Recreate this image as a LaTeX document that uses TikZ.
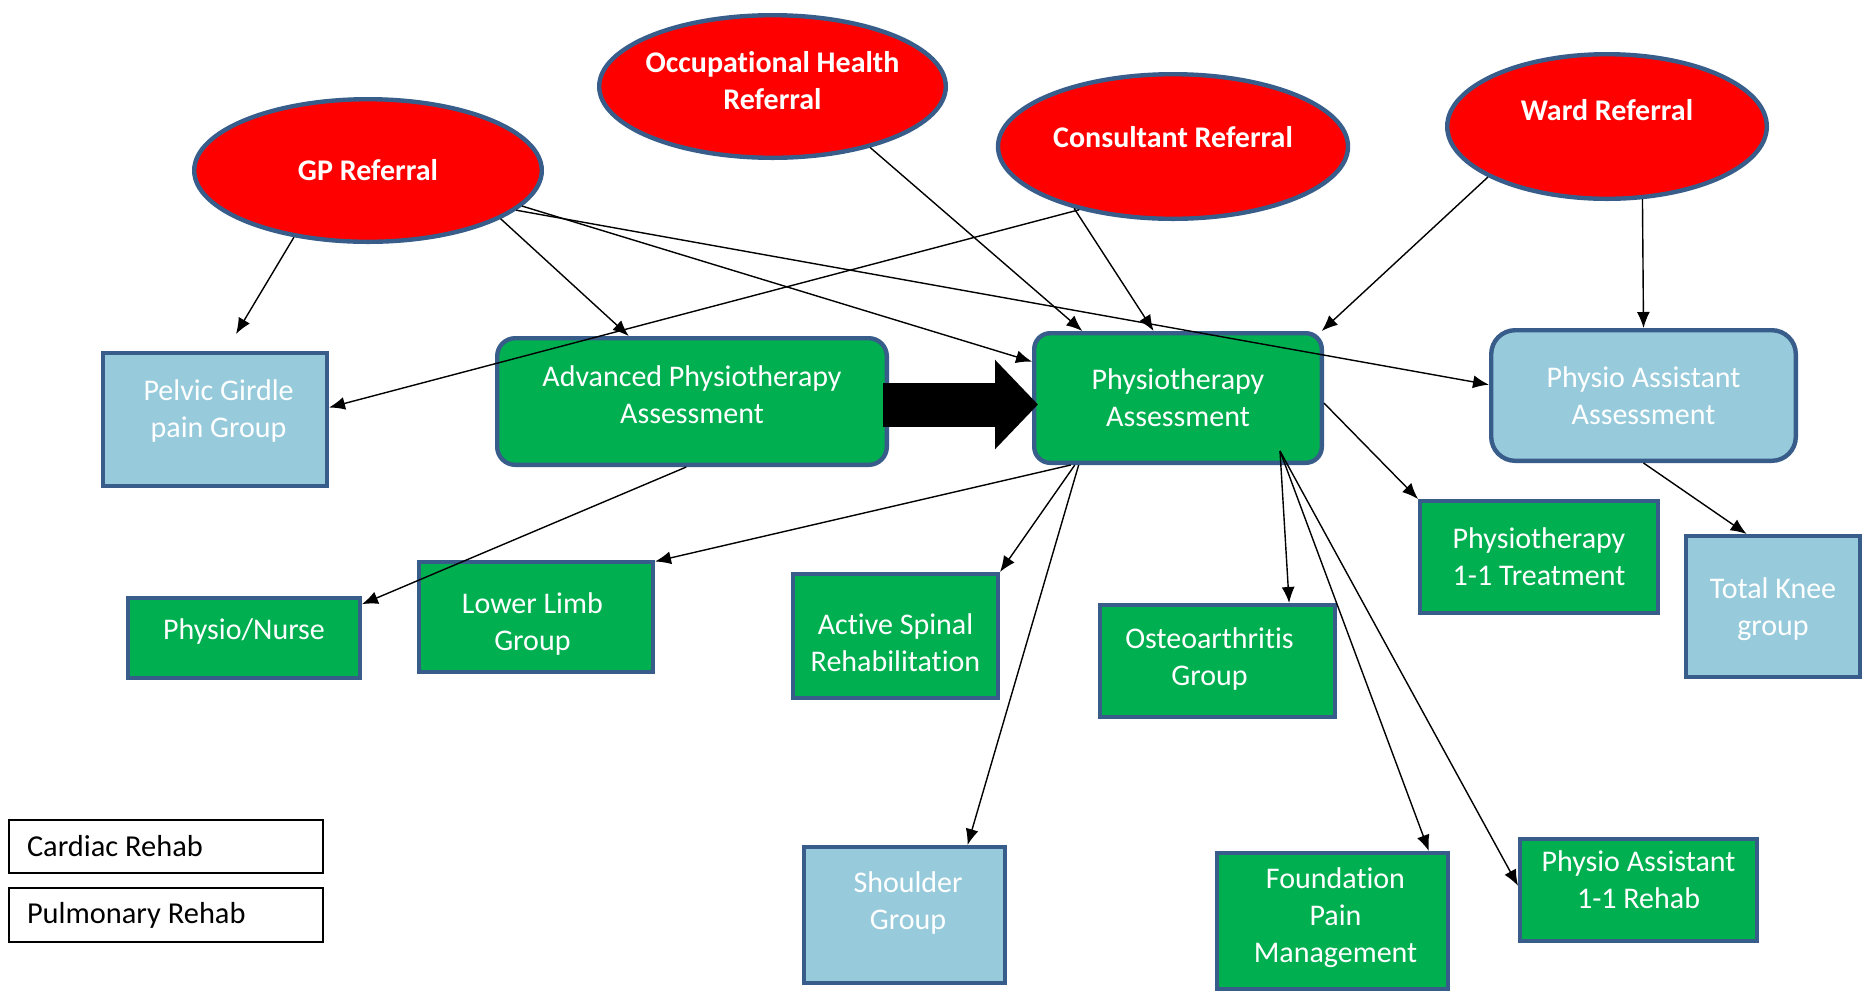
\documentclass[tikz,border=0pt]{standalone}
\usepackage{fontspec}
\setmainfont{Carlito}[Ligatures=NoCommon]
\usetikzlibrary{arrows.meta,shapes.geometric,calc}
\definecolor{boxblue}{HTML}{385D8A}
\definecolor{pgreen}{HTML}{00B050}
\definecolor{lblue}{HTML}{97CBDC}
\definecolor{rred}{HTML}{FF0000}
\begin{document}
\begin{tikzpicture}[x=0.5pt,y=-0.5pt,
 refnode/.style={ellipse, draw=boxblue, line width=2.2pt, fill=rred, inner sep=0pt},
 etxt/.style={text=white, font=\fontsize{15}{18.5}\selectfont\bfseries, align=center, inner sep=0pt},
 gbox/.style={rectangle, draw=boxblue, line width=2.2pt, fill=pgreen, inner sep=0pt},
 bbox/.style={gbox, fill=lblue},
 txt/.style={text=white, font=\fontsize{15}{18.5}\selectfont, align=center, inner sep=0pt},
 legendbox/.style={rectangle, draw=black, line width=1pt, fill=white, inner xsep=9pt, inner ysep=0pt,
   font=\fontsize{15.2}{18}\selectfont},
 arr/.style={-{Latex[length=8pt,width=6.5pt]}, line width=0.7pt, black},
 bigarr/.style={line width=22pt, black, -{Triangle[length=21.5pt,width=43.5pt]}}
]
\useasboundingbox[fill=white] (0,0) rectangle (1872,992);

% referral ellipses
\node[refnode, minimum width=173.8pt, minimum height=71.3pt,
  label={[etxt]center:GP Referral}] (gp) at (368,170.5) {};
\node[refnode, minimum width=173.3pt, minimum height=71.3pt,
  label={[etxt,yshift=3pt]center:{Occupational Health\\Referral}}] (oh) at (772.5,86.5) {};
\node[refnode, minimum width=175pt, minimum height=72.3pt,
  label={[etxt,yshift=4.75pt]center:Consultant Referral}] (cons) at (1173,146.5) {};
\node[refnode, minimum width=159.8pt, minimum height=72.3pt,
  label={[etxt,yshift=8.25pt]center:Ward Referral}] (ward) at (1607,126.5) {};

% boxes
\node[bbox, minimum width=111.8pt, minimum height=66.3pt,
  label={[txt,xshift=1.8pt,yshift=4.5pt]center:{Pelvic Girdle\\pain Group}}] (pelvic) at (215,419.5) {};
\node[gbox, rounded corners=9pt, minimum width=194.8pt, minimum height=63.3pt,
  label={[txt,yshift=3.25pt]center:{Advanced Physiotherapy\\Assessment}}] (adv) at (692,401.5) {};
\node[gbox, rounded corners=8pt, minimum width=143.8pt, minimum height=64.8pt,
  label={[txt]center:{Physiotherapy\\Assessment}}] (pa) at (1178,398) {};
\node[bbox, rounded corners=12pt, minimum width=152.3pt, minimum height=65.3pt,
  label={[txt]center:{Physio Assistant\\Assessment}}] (paa) at (1643.5,395.5) {};
\node[gbox, minimum width=115.8pt, minimum height=39.8pt,
  label={[txt,yshift=3.2pt]center:Physio/Nurse}] (nurse) at (244,638) {};
\node[gbox, minimum width=116.8pt, minimum height=54.8pt,
  label={[txt,xshift=-1.8pt,yshift=-3.25pt]center:{Lower Limb\\Group}}] (lower) at (536,617) {};
\node[gbox, minimum width=102.3pt, minimum height=61.8pt,
  label={[txt,yshift=-3.5pt]center:{Active Spinal\\Rehabilitation}}] (spinal) at (895.5,636) {};
\node[bbox, minimum width=100.3pt, minimum height=67.8pt,
  label={[txt,xshift=1.8pt,yshift=6pt]center:{Shoulder\\Group}}] (shoulder) at (904.5,915) {};
\node[gbox, minimum width=117.3pt, minimum height=55.8pt,
  label={[txt,xshift=-4pt,yshift=1.25pt]center:{Osteoarthritis\\Group}}] (osteo) at (1217.5,661) {};
\node[gbox, minimum width=115.3pt, minimum height=67.8pt,
  label={[txt,xshift=1.5pt,yshift=1.5pt]center:{Foundation\\Pain\\Management}}] (found) at (1332.5,921) {};
\node[gbox, minimum width=118.8pt, minimum height=55.8pt,
  label={[txt]center:{Physiotherapy\\1-1 Treatment}}] (treat) at (1539,557) {};
\node[bbox, minimum width=86.8pt, minimum height=70.3pt,
  label={[txt,yshift=-1.5pt]center:{Total Knee\\group}}] (knee) at (1773,606.5) {};
\node[gbox, minimum width=118.3pt, minimum height=50.8pt,
  label={[txt,yshift=5.25pt]center:{Physio Assistant\\1-1 Rehab}}] (rehab) at (1638.5,890) {};

% legend
\node[legendbox, minimum height=26.5pt] (cardiac) at (166,846.5) {\makebox[139pt][l]{Cardiac Rehab}};
\node[legendbox, minimum height=27pt] (pulm) at (166,915) {\makebox[139pt][l]{Pulmonary Rehab}};

% connectors
\coordinate (pgtip) at (236,334);
\draw[arr] (gp.-138) -- (pgtip);
\draw[arr] (gp.-20) -- (adv.134);
\draw[arr] (gp.-13.5) -- (pa.166.8);
\draw[arr] (gp.-15.6) -- (paa.176.9);
\draw[arr] (cons.-146.9) -- (pelvic.6.2);
\draw[arr] (oh.-32.9) -- (pa.145.3);
\draw[arr] (cons.-148.3) -- (pa.110.1);
\draw[arr] (ward.-157.2) -- (pa.25);
\draw[arr] (ward.-64) -- (paa.north);
\draw[arr] (pa.-2) -- (treat.north west);
\draw[arr] (paa.south) -- (knee.110);
\draw[arr] (adv.-95) -- (nurse.16);
\draw[arr] (pa.-148) -- (lower.25);
\draw[arr] (pa.-147) -- (spinal.north east);
\draw[arr] (pa.-146) -- (shoulder.48);
\coordinate (pin) at ($(pa.center)+(102,53)$);
\draw[arr] (pin) -- (osteo.39);
\draw[arr] (pin) -- (found.36.5);
\draw[arr] (pin) -- (rehab.178.5);
\coordinate (bigy) at (0,404.5);
\draw[bigarr, shorten <=-3pt, shorten >=-3pt] (adv.east |- bigy) -- (pa.west |- bigy);
\end{tikzpicture}
\end{document}
